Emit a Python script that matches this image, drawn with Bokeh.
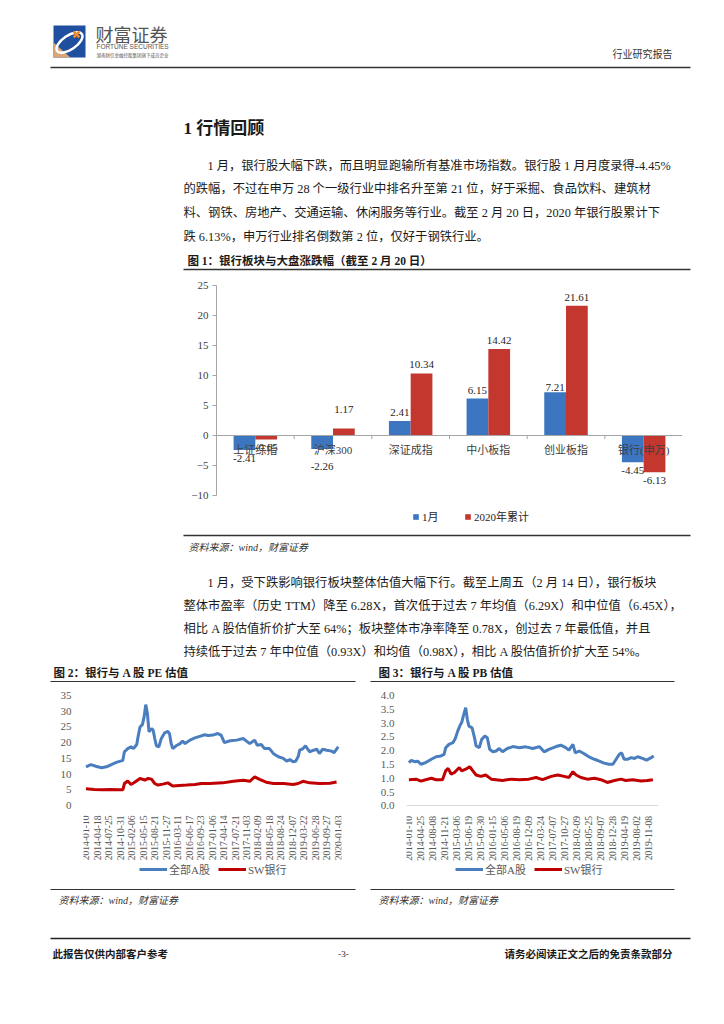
import math
from bokeh.plotting import figure
from bokeh.layouts import column, row
from bokeh.models import (Range1d, FactorRange, Legend, LegendItem, FixedTicker,
                          Spacer, PrintfTickFormatter, ColumnDataSource)
from bokeh.transform import dodge
from bokeh.core.properties import value
from bokeh.embed import file_html
from bokeh.resources import INLINE

# ---------------- data ----------------
bar_categories = ["上证综指", "沪深300", "深证成指", "中小板指", "创业板指", "银行(申万)"]
jan_change = [-2.41, -2.26, 2.41, 6.15, 7.21, -4.45]
ytd_change = [-0.65, 1.17, 10.34, 14.42, 21.61, -6.13]
bar_series = ["1月", "2020年累计"]

pe_all_x = [0, 6, 12, 19, 25, 31, 37, 43, 45, 47, 51, 55, 58, 62, 64, 66, 69, 71, 73, 75,
            77, 80, 82, 84, 86, 89, 92, 96, 100, 102, 104, 106, 110, 115, 118, 121, 127, 133, 139, 145,
            149, 155, 161, 165, 169, 176, 184, 192, 196, 200, 206, 209, 214, 218, 224, 229, 235, 241, 245, 249,
            253, 256, 259, 261, 265, 268, 273, 278, 282, 285, 289, 294, 300, 303, 308]
pe_all_y = [12.3, 13.0, 12.5, 12.0, 12.3, 13.0, 13.7, 14.2, 14.4, 17.1, 18.1, 18.7, 18.1, 19.4, 22.4, 25.0, 25.8, 28.2, 32.1, 29.3,
            23.4, 24.5, 24.0, 21.3, 19.0, 18.7, 21.3, 23.1, 23.6, 22.9, 19.7, 18.1, 19.0, 19.7, 20.5, 19.7, 20.8, 21.5, 22.0, 22.5,
            22.3, 22.4, 22.9, 22.4, 20.0, 20.6, 20.8, 21.3, 20.5, 19.7, 20.8, 19.2, 19.4, 18.1, 18.1, 16.5, 15.5, 15.0, 14.1, 14.6,
            13.9, 14.1, 15.5, 17.6, 18.1, 19.0, 17.1, 17.6, 17.9, 16.5, 17.9, 17.6, 17.3, 16.8, 18.7]
pe_bank_x = [0, 10, 20, 30, 40, 45, 47, 51, 55, 59, 66, 72, 76, 80, 84, 88, 94, 100, 106, 114,
             123, 133, 141, 151, 167, 180, 192, 200, 206, 212, 220, 229, 241, 253, 259, 265, 273, 285, 298, 306]
pe_bank_y = [5.3, 5.1, 5.0, 5.1, 5.0, 5.0, 7.0, 7.8, 6.7, 7.3, 8.6, 8.1, 8.6, 8.4, 7.0, 6.5, 6.8, 7.2, 6.2, 6.4,
             6.5, 6.7, 7.0, 7.0, 7.2, 7.7, 8.0, 7.7, 9.1, 8.3, 7.4, 7.0, 7.0, 6.7, 7.0, 7.7, 7.2, 7.0, 7.1, 7.5]
pe_tick_labels = ["2014-01-10", "2014-04-18", "2014-07-25", "2014-10-31", "2015-02-06", "2015-05-15",
                  "2015-08-21", "2015-11-27", "2016-03-11", "2016-06-17", "2016-09-23", "2017-01-06",
                  "2017-04-14", "2017-07-21", "2017-11-03", "2018-02-09", "2018-05-18", "2018-08-24",
                  "2018-12-07", "2019-03-22", "2019-06-28", "2019-09-27", "2020-01-03"]
pe_tick_step = 14

pb_all_x = [0, 3, 7, 11, 15, 21, 28, 34, 40, 44, 46, 50, 55, 58, 61, 64, 66, 68, 71, 73,
            75, 79, 82, 84, 88, 91, 95, 98, 101, 105, 109, 113, 117, 123, 130, 138, 146, 155, 163, 169,
            175, 184, 190, 196, 200, 205, 208, 213, 219, 225, 232, 238, 244, 250, 255, 259, 263, 266, 269, 273,
            278, 282, 286, 292, 297, 303, 306]
pb_all_y = [1.57, 1.65, 1.60, 1.62, 1.51, 1.57, 1.69, 1.78, 1.81, 1.87, 2.11, 2.23, 2.29, 2.44, 2.71, 2.92, 3.02, 3.25, 3.56, 3.14,
            2.89, 2.83, 2.47, 2.17, 2.11, 2.41, 2.53, 2.47, 2.05, 1.96, 1.99, 2.08, 1.96, 2.08, 2.15, 2.11, 2.14, 2.08, 2.15, 1.96,
            2.05, 2.15, 2.20, 2.11, 2.02, 2.23, 1.92, 1.99, 1.89, 1.78, 1.69, 1.62, 1.55, 1.51, 1.51, 1.69, 1.87, 1.92, 1.69, 1.69,
            1.75, 1.72, 1.78, 1.72, 1.66, 1.75, 1.81]
pb_bank_x = [0, 9, 15, 21, 28, 34, 42, 46, 49, 53, 57, 63, 66, 71, 76, 80, 84, 90, 96, 103,
             109, 117, 128, 138, 150, 159, 167, 178, 186, 194, 200, 205, 209, 215, 223, 232, 240, 248, 257, 265,
             271, 280, 290, 298, 305]
pb_bank_y = [0.95, 0.97, 0.90, 0.95, 1.00, 0.95, 0.95, 1.27, 1.36, 1.15, 1.21, 1.39, 1.27, 1.33, 1.42, 1.27, 1.12, 1.07, 1.12, 0.97,
             0.95, 0.92, 0.97, 0.95, 0.97, 1.03, 0.95, 1.07, 1.12, 1.07, 1.03, 1.24, 1.12, 1.03, 0.97, 1.00, 0.95, 0.85, 0.92, 0.97,
             0.92, 0.95, 0.90, 0.92, 0.95]
pb_tick_labels = ["2014-01-10", "2014-04-25", "2014-08-08", "2014-11-21", "2015-03-06", "2015-06-19",
                  "2015-09-30", "2016-01-15", "2016-05-06", "2016-08-19", "2016-12-09", "2017-03-24",
                  "2017-07-07", "2017-10-27", "2018-02-09", "2018-05-25", "2018-09-07", "2018-12-28",
                  "2019-04-19", "2019-08-02", "2019-11-08"]
pb_tick_step = 15
line_series = ["全部A股", "SW银行"]

para1 = ["1 月，银行股大幅下跌，而且明显跑输所有基准市场指数。银行股 1 月月度录得-4.45%",
         "的跌幅，不过在申万 28 个一级行业中排名升至第 21 位，好于采掘、食品饮料、建筑材",
         "料、钢铁、房地产、交通运输、休闲服务等行业。截至 2 月 20 日，2020 年银行股累计下",
         "跌 6.13%，申万行业排名倒数第 2 位，仅好于钢铁行业。"]
para2 = ["1 月，受下跌影响银行板块整体估值大幅下行。截至上周五（2 月 14 日），银行板块",
         "整体市盈率（历史 TTM）降至 6.28X，首次低于过去 7 年均值（6.29X）和中位值（6.45X），",
         "相比 A 股估值折价扩大至 64%；板块整体市净率降至 0.78X，创过去 7 年最低值，并且",
         "持续低于过去 7 年中位值（0.93X）和均值（0.98X），相比 A 股估值折价扩大至 54%。"]

# ---------------- style ----------------
CJK = "Noto Sans CJK SC"
MIX = "Liberation Serif, Noto Sans CJK SC"
INK = "#1a1a1a"
BLUE_BAR = "#3d76c0"
RED_BAR = "#c3372f"
BLUE_LINE = "#4a7ebf"
RED_LINE = "#c00000"
jan_label_nudge = [0, 9, 0, 0, 4, 0]
ytd_label_nudge = [0, -10, 0, 0, 0, 0]
PAGE_W = 716


def page_fig(y0, y1):
    p = figure(width=PAGE_W, height=y1 - y0, x_range=Range1d(0, PAGE_W), y_range=Range1d(y1, y0),
               x_axis_type=None, y_axis_type=None, toolbar_location=None, output_backend="svg",
               min_border=0, outline_line_color=None)
    return p


def txt(p, x, y, s, size, font=MIX, color=INK, align="left", style="normal", baseline="middle"):
    p.text(x=[x], y=[y], text=[s], text_font=value(font), text_font_size=f"{size}px",
           text_color=color, text_align=align, text_baseline=baseline, text_font_style=style)


def hline(p, x0, x1, y, w=1.5, color="#333333"):
    p.segment(x0=[x0], y0=[y], x1=[x1], y1=[y], line_color=color, line_width=w)


# ---------------- section A: header + paragraph 1 ----------------
top = page_fig(0, 275)
top.quad(left=[53], right=[85], top=[25], bottom=[57], fill_color="#1f4f9f", line_color=None)
top.patch(x=[53, 53, 70], y=[42, 57, 57], fill_color="#d8a678", line_color=None)
top.ellipse(x=[69], y=[42], width=[30], height=[14], angle=[0.6], fill_color=None,
            line_color="white", line_width=2.5)
top.scatter(x=[76], y=[34], marker="x", size=8, line_color="#f08a24", line_width=2.5)
txt(top, 95, 33, "财富证券", 18, font=CJK, color="#555555")
txt(top, 96, 46, "FORTUNE SECURITIES", 6.5, font="Liberation Sans", color="#555555")
txt(top, 96, 54, "湖南财信金融控股集团旗下成员企业", 4.5, font=CJK, color="#555555")
txt(top, 672, 53, "行业研究报告", 10, font=CJK, color="#333333", align="right")
hline(top, 50, 690, 67, w=1.5, color="#333333")
txt(top, 183, 128, "1 行情回顾", 17, style="bold")
for i, line in enumerate(para1):
    txt(top, 207 if i == 0 else 183, 165 + i * 23.7, line, 12.3)
txt(top, 187, 260, "图 1：银行板块与大盘涨跌幅（截至 2 月 20 日）", 11.5, style="bold")
hline(top, 183, 690, 269, w=1.5)

# ---------------- section B: bar chart (frame spans down to the legend) ----------------
bar = figure(width=520, height=255, x_range=FactorRange(factors=bar_categories), y_range=Range1d(-15.833, 25),
             toolbar_location=None, output_backend="svg", min_border_left=46, min_border_right=8,
             min_border_top=10, min_border_bottom=0, outline_line_color=None)
bar.grid.visible = False
src = ColumnDataSource(dict(cat=bar_categories, jan=jan_change, ytd=ytd_change))
r1 = bar.vbar(x=dodge("cat", -0.14, range=bar.x_range), top="jan", bottom=0, width=0.28,
              source=src, fill_color=BLUE_BAR, line_color=None)
r2 = bar.vbar(x=dodge("cat", 0.14, range=bar.x_range), top="ytd", bottom=0, width=0.28,
              source=src, fill_color=RED_BAR, line_color=None)
for vals, off, nudges in ((jan_change, -0.14, jan_label_nudge), (ytd_change, 0.14, ytd_label_nudge)):
    for positive, base in ((True, "bottom"), (False, "top")):
        idx = [i for i, v in enumerate(vals) if (v >= 0) == positive]
        if not idx:
            continue
        s = ColumnDataSource(dict(cat=[bar_categories[i] for i in idx], v=[vals[i] for i in idx],
                                  t=[f"{vals[i]:.2f}" for i in idx],
                                  dy=[(-5 if positive else 5) + nudges[i] for i in idx]))
        bar.text(x=dodge("cat", off, range=bar.x_range), y="v", text="t", y_offset="dy", source=s,
                 text_align="center", text_baseline=base, text_font=value(MIX),
                 text_font_size="11px", text_color="#262626")
bar.segment(x0=[1, 2, 3, 4, 5], y0=[0] * 5, x1=[1, 2, 3, 4, 5], y1=[-0.6] * 5,
            line_color="#a6a6a6", line_width=1)
bar.xaxis.fixed_location = 0
bar.xaxis.axis_line_color = "#a6a6a6"
bar.xaxis.major_tick_line_color = None
bar.xaxis.major_label_standoff = 2
bar.xaxis.major_label_text_font = MIX
bar.xaxis.major_label_text_font_size = "11px"
bar.xaxis.major_label_text_color = "#404040"
bar.yaxis.ticker = FixedTicker(ticks=[-10, -5, 0, 5, 10, 15, 20, 25])
bar.yaxis.bounds = (-10, 25)
bar.yaxis.axis_line_color = "#a6a6a6"
bar.yaxis.major_tick_line_color = "#a6a6a6"
bar.yaxis.major_tick_out = 4
bar.yaxis.major_tick_in = 0
bar.yaxis.minor_tick_line_color = None
bar.yaxis.major_label_standoff = 4
bar.yaxis.major_label_text_font = "Liberation Serif"
bar.yaxis.major_label_text_font_size = "11px"
bar.yaxis.major_label_text_color = "#404040"
bar_legend = Legend(items=[LegendItem(label=bar_series[0], renderers=[r1]),
                           LegendItem(label=bar_series[1], renderers=[r2])],
                    orientation="horizontal", location=(196, 6), glyph_width=7, glyph_height=7,
                    label_standoff=3, spacing=22, padding=0, margin=0, label_height=12,
                    border_line_color=None, background_fill_alpha=0,
                    label_text_font=MIX, label_text_font_size="11px", label_text_color="#262626")
bar.add_layout(bar_legend)

# ---------------- section C: source + paragraph 2 + titles ----------------
mid = page_fig(530, 686)
hline(mid, 183, 690, 535, w=1.5)
txt(mid, 188, 547, "资料来源：wind，财富证券", 10, style="italic", color="#333333")
for i, line in enumerate(para2):
    txt(mid, 207 if i == 0 else 183, 582 + i * 23.2, line, 12.3)
txt(mid, 53, 672, "图 2：银行与 A 股 PE 估值", 11.5, style="bold")
txt(mid, 378, 672, "图 3：银行与 A 股 PB 估值", 11.5, style="bold")
hline(mid, 50, 355, 681, w=1.2)
hline(mid, 370, 674, 681, w=1.2)


# ---------------- section D: line charts (frame spans down to the legend) ----------------
def line_chart(xa, ya, xb, yb, ymax, px_per_unit, top_b, yticks, fmt, labels, step,
               left, right, legend_x, axis_line):
    frame_h = 196 - top_b
    ymin = ymax - frame_h / px_per_unit
    p = figure(width=354, height=196, x_range=Range1d(-3, 312), y_range=Range1d(ymin, ymax),
               toolbar_location=None, output_backend="svg", min_border_left=left,
               min_border_right=right, min_border_top=top_b, min_border_bottom=0,
               outline_line_color=None)
    p.grid.visible = False
    ra = p.line(xa, ya, line_color=BLUE_LINE, line_width=3)
    rb = p.line(xb, yb, line_color=RED_LINE, line_width=3)
    p.yaxis.ticker = FixedTicker(ticks=yticks)
    p.yaxis.bounds = (0, ymax)
    if fmt:
        p.yaxis.formatter = PrintfTickFormatter(format=fmt)
    p.yaxis.axis_line_color = None
    p.yaxis.major_tick_line_color = None
    p.yaxis.minor_tick_line_color = None
    p.yaxis.major_label_standoff = 6
    p.yaxis.major_label_text_font = "Liberation Serif"
    p.yaxis.major_label_text_font_size = "11px"
    p.yaxis.major_label_text_color = "#595959"
    ticks = [i * step for i in range(len(labels))]
    p.xaxis.fixed_location = 0
    p.xaxis.ticker = FixedTicker(ticks=ticks)
    p.xaxis.major_label_overrides = {t: l for t, l in zip(ticks, labels)}
    p.xaxis.major_label_orientation = math.pi / 2
    p.xaxis.axis_line_color = "#d9d9d9" if axis_line else None
    p.xaxis.major_tick_line_color = None
    p.xaxis.minor_tick_line_color = None
    p.xaxis.major_label_standoff = 4
    p.xaxis.major_label_text_font = "Liberation Serif"
    p.xaxis.major_label_text_font_size = "9.6px"
    p.xaxis.major_label_text_color = "#595959"
    lg = Legend(items=[LegendItem(label=line_series[0], renderers=[ra]),
                       LegendItem(label=line_series[1], renderers=[rb])],
                orientation="horizontal", location=(legend_x, 5), glyph_width=28, glyph_height=12,
                label_standoff=2, spacing=8, padding=0, margin=0, label_height=12,
                border_line_color=None, background_fill_alpha=0,
                label_text_font=MIX, label_text_font_size="11px", label_text_color="#595959")
    p.add_layout(lg)
    return p


pe = line_chart(pe_all_x, pe_all_y, pe_bank_x, pe_bank_y, 35, 110 / 35, 9,
                [0, 5, 10, 15, 20, 25, 30, 35], None, pe_tick_labels, pe_tick_step, 75, 21, 56, False)
pb = line_chart(pb_all_x, pb_all_y, pb_bank_x, pb_bank_y, 4, 111 / 4, 8,
                [0, 0.5, 1, 1.5, 2, 2.5, 3, 3.5, 4], "%.1f", pb_tick_labels, pb_tick_step, 44, 58, 49, True)

# ---------------- section E: sources + footer ----------------
bot = page_fig(882, 1016)
hline(bot, 50, 355, 889, w=1.2)
hline(bot, 370, 674, 889, w=1.2)
txt(bot, 58, 900, "资料来源：wind，财富证券", 10, style="italic", color="#333333")
txt(bot, 378, 900, "资料来源：wind，财富证券", 10, style="italic", color="#333333")
hline(bot, 50, 690, 938, w=1.5, color="#222222")
txt(bot, 52, 953, "此报告仅供内部客户参考", 10.5, font=CJK, style="bold")
txt(bot, 343, 953, "-3-", 9, font="Liberation Serif", align="center")
txt(bot, 672, 953, "请务必阅读正文之后的免责条款部分", 10.5, font=CJK, style="bold", align="right")

layout = column(top,
                row(Spacer(width=170, height=255), bar, Spacer(width=26, height=255)),
                mid,
                row(Spacer(width=8, height=196), pe, pb),
                bot)

open("out.html", "w").write(file_html(layout, INLINE, title="银行行业研究报告"))
